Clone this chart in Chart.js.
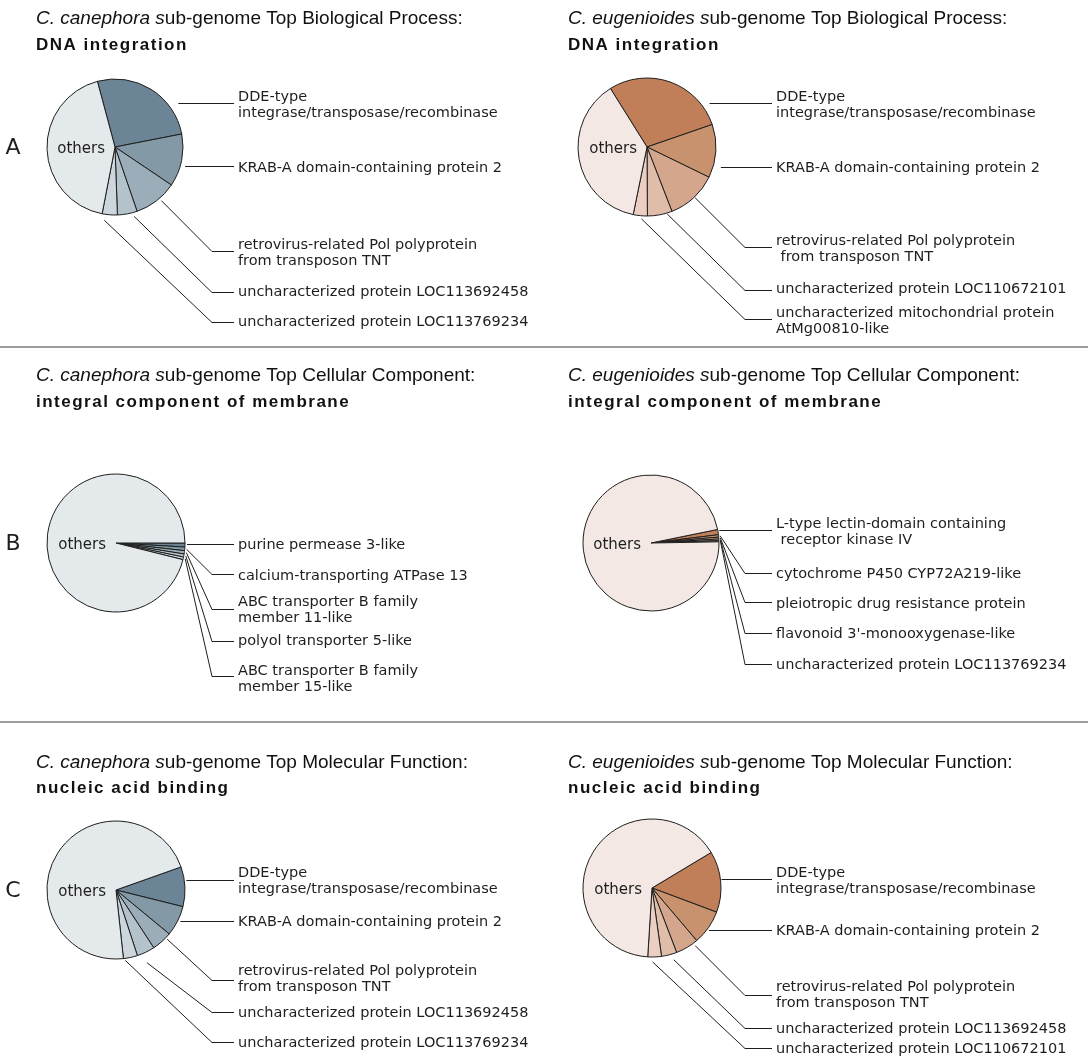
<!DOCTYPE html>
<html>
<head>
<meta charset="utf-8">
<script src="https://cdn.jsdelivr.net/npm/chart.js@4.4.1/dist/chart.umd.min.js"></script>
<style>
  html, body { margin: 0; padding: 0; background: #fff; }
  #page { position: relative; width: 1092px; height: 1062px; overflow: hidden; background: #fff; }
  #page canvas { position: absolute; }
  .rule { position: absolute; left: 0; width: 1088px; height: 2px; background: #9c9c9c; z-index: 2; }
</style>
</head>
<body>
<div id="page">
  <div class="rule" style="top:346px"></div>
  <div class="rule" style="top:721px"></div>
</div>
<script>
// ---- GO terms ----
const bpTerm = 'DNA integration';
const ccTerm = 'integral component of membrane';
const mfTerm = 'nucleic acid binding';

// ---- Biological Process: DNA integration (share of genes, %) ----
const bpCanephoraLabels = [
  'DDE-type\nintegrase/transposase/recombinase',
  'KRAB-A domain-containing protein 2',
  'retrovirus-related Pol polyprotein\nfrom transposon TNT',
  'uncharacterized protein LOC113692458',
  'uncharacterized protein LOC113769234',
  'others'
];
const bpCanephoraShares = [26.1, 12.5, 10.3, 4.7, 3.6, 42.8];

const bpEugenioidesLabels = [
  'DDE-type\nintegrase/transposase/recombinase',
  'KRAB-A domain-containing protein 2',
  'retrovirus-related Pol polyprotein\n from transposon TNT',
  'uncharacterized protein LOC110672101',
  'uncharacterized mitochondrial protein\nAtMg00810-like',
  'others'
];
const bpEugenioidesShares = [28.6, 12.5, 11.9, 5.8, 3.3, 37.9];

// ---- Cellular Component: integral component of membrane ----
const ccCanephoraLabels = [
  'purine permease 3-like',
  'calcium-transporting ATPase 13',
  'ABC transporter B family\nmember 11-like',
  'polyol transporter 5-like',
  'ABC transporter B family\nmember 15-like',
  'others'
];
const ccCanephoraShares = [0.94, 0.83, 0.78, 0.72, 0.61, 96.12];

const ccEugenioidesLabels = [
  'L-type lectin-domain containing\n receptor kinase IV',
  'cytochrome P450 CYP72A219-like',
  'pleiotropic drug resistance protein',
  "flavonoid 3'-monooxygenase-like",
  'uncharacterized protein LOC113769234',
  'others'
];
const ccEugenioidesShares = [1.25, 0.56, 0.44, 0.39, 0.28, 97.08];

// ---- Molecular Function: nucleic acid binding ----
const mfCanephoraLabels = [
  'DDE-type\nintegrase/transposase/recombinase',
  'KRAB-A domain-containing protein 2',
  'retrovirus-related Pol polyprotein\nfrom transposon TNT',
  'uncharacterized protein LOC113692458',
  'uncharacterized protein LOC113769234',
  'others'
];
const mfCanephoraShares = [9.3, 7.1, 4.8, 4.2, 3.3, 71.3];

const mfEugenioidesLabels = [
  'DDE-type\nintegrase/transposase/recombinase',
  'KRAB-A domain-containing protein 2',
  'retrovirus-related Pol polyprotein\nfrom transposon TNT',
  'uncharacterized protein LOC113692458',
  'uncharacterized protein LOC110672101',
  'others'
];
const mfEugenioidesShares = [14.3, 8.1, 5.4, 3.6, 3.2, 65.4];

// ---- palettes ----
const canephoraColors   = ['#6b8596', '#8399a5', '#9aadb9', '#b3c2cb', '#ccd6dc', '#e4e9ec'];
const eugenioidesColors = ['#c07f58', '#c9926f', '#d4a68b', '#dfbda8', '#eacfc2', '#f3e8e3'];

// ---- panel layout (page coordinates) ----
const LEFT = { textX: 238, kneeX: 212, titleX: 36 };
const RIGHT = { textX: 776, kneeX: 745, titleX: 568 };

const panels = [
  { letter: 'A', species: 'C. canephora s', rest: 'ub-genome Top Biological Process:', term: bpTerm,
    labels: bpCanephoraLabels, values: bpCanephoraShares, colors: canephoraColors,
    box: [0, 0, 546, 346], pie: [115, 147, 68], rotation: -15, titleY: [24, 50], col: LEFT,
    leaders: [
      { type: 'h', y: 103, gap: 11, textY: 101 },
      { type: 'h', y: 166, gap: 5, textY: 172 },
      { type: 'ray', frac: 0.41, gap: 3, y: 251, textY: 249 },
      { type: 'ray', frac: 0.21, gap: 4, y: 292, textY: 296 },
      { type: 'ray', frac: 0.80, gap: 6, y: 322, textY: 326 }
    ] },
  { species: 'C. eugenioides s', rest: 'ub-genome Top Biological Process:', term: bpTerm,
    labels: bpEugenioidesLabels, values: bpEugenioidesShares, colors: eugenioidesColors,
    box: [546, 0, 546, 346], pie: [647, 147, 69], rotation: -32, titleY: [24, 50], col: RIGHT,
    leaders: [
      { type: 'h', y: 103, gap: 9, textY: 101 },
      { type: 'h', y: 167, gap: 8, textY: 172 },
      { type: 'ray', frac: 0.48, gap: 1, y: 247, textY: 245 },
      { type: 'ray', frac: 0.21, gap: 1, y: 290, textY: 293 },
      { type: 'ray', frac: 0.40, gap: 3, y: 319, textY: 317 }
    ] },
  { letter: 'B', species: 'C. canephora s', rest: 'ub-genome Top Cellular Component:', term: ccTerm,
    labels: ccCanephoraLabels, values: ccCanephoraShares, colors: canephoraColors,
    box: [0, 346, 546, 376], pie: [116, 543, 69], rotation: 90, titleY: [381, 407], col: LEFT,
    leaders: [
      { type: 'h', y: 544, gap: 2, textY: 549 },
      { type: 'ray', frac: 0.6, gap: 2, y: 574, textY: 580 },
      { type: 'ray', frac: 0.5, gap: 2, y: 609, textY: 606 },
      { type: 'ray', frac: 0.5, gap: 2, y: 641, textY: 645 },
      { type: 'ray', frac: 0.5, gap: 2, y: 676, textY: 675 }
    ] },
  { species: 'C. eugenioides s', rest: 'ub-genome Top Cellular Component:', term: ccTerm,
    labels: ccEugenioidesLabels, values: ccEugenioidesShares, colors: eugenioidesColors,
    box: [546, 346, 546, 376], pie: [651, 543, 68], rotation: 78.5, titleY: [381, 407], col: RIGHT,
    leaders: [
      { type: 'h', y: 530, gap: 1.5, textY: 528 },
      { type: 'ray', frac: 0.5, gap: 1.5, y: 573, textY: 578 },
      { type: 'ray', frac: 0.5, gap: 1.5, y: 602, textY: 608 },
      { type: 'ray', frac: 0.5, gap: 1.5, y: 633, textY: 638 },
      { type: 'ray', frac: 0.5, gap: 1.5, y: 664, textY: 669 }
    ] },
  { letter: 'C', species: 'C. canephora s', rest: 'ub-genome Top Molecular Function:', term: mfTerm,
    labels: mfCanephoraLabels, values: mfCanephoraShares, colors: canephoraColors,
    box: [0, 722, 546, 340], pie: [116, 890, 69], rotation: 70.5, titleY: [768, 793], col: LEFT,
    leaders: [
      { type: 'h', y: 880, gap: 2, textY: 877 },
      { type: 'h', y: 921, gap: 3, textY: 926 },
      { type: 'ray', frac: 0.25, gap: 2, y: 980, textY: 975 },
      { type: 'ray', frac: 0.67, gap: 10, y: 1012, textY: 1017 },
      { type: 'ray', frac: 0.89, gap: 2, y: 1042, textY: 1047 }
    ] },
  { species: 'C. eugenioides s', rest: 'ub-genome Top Molecular Function:', term: mfTerm,
    labels: mfEugenioidesLabels, values: mfEugenioidesShares, colors: eugenioidesColors,
    box: [546, 722, 546, 340], pie: [652, 888, 69], rotation: 59, titleY: [768, 793], col: RIGHT,
    leaders: [
      { type: 'h', y: 879, gap: 1, textY: 877 },
      { type: 'h', y: 930, gap: 2.5, textY: 935 },
      { type: 'ray', frac: 0.18, gap: 3, y: 995, textY: 991 },
      { type: 'ray', frac: 0.31, gap: 6, y: 1028, textY: 1033 },
      { type: 'ray', frac: 0.65, gap: 5, y: 1048, textY: 1053 }
    ] }
];

const INK = '#1e1e1e';
const LABEL_FONT = '14.5px "DejaVu Sans", Verdana, sans-serif';
const LINE_H = 15.5;

// Titles, leader lines, slice labels and the panel letter
function makeAnnotator(p) {
  return {
    id: 'annotator',
    afterDatasetsDraw(chart) {
      const ctx = chart.ctx;
      const [ox, oy] = p.box;
      const tX = p.col.titleX - ox;
      ctx.save();
      ctx.fillStyle = '#111';
      ctx.textBaseline = 'alphabetic';
      ctx.textAlign = 'left';

      // title line 1: italic species name + plain remainder
      ctx.font = 'italic 19px "Liberation Sans", Arial, sans-serif';
      ctx.fillText(p.species, tX, p.titleY[0] - oy);
      const w = ctx.measureText(p.species).width;
      ctx.font = '19px "Liberation Sans", Arial, sans-serif';
      ctx.fillText(p.rest, tX + w, p.titleY[0] - oy);

      // title line 2: GO term
      ctx.font = 'bold 17px "Liberation Sans", Arial, sans-serif';
      ctx.letterSpacing = '1.5px';
      ctx.fillText(p.term, tX, p.titleY[1] - oy);
      ctx.letterSpacing = '0px';

      const meta = chart.getDatasetMeta(0);
      const kx = p.col.kneeX - ox;
      const tx = p.col.textX - ox;

      // panel letter beside the pie
      if (p.letter && meta.data.length) {
        ctx.font = '22px "DejaVu Sans", Verdana, sans-serif';
        ctx.textAlign = 'center';
        ctx.textBaseline = 'middle';
        ctx.fillStyle = INK;
        ctx.fillText(p.letter, 13 - ox, meta.data[0].y + 1);
      }

      ctx.strokeStyle = INK;
      ctx.lineWidth = 1;
      meta.data.forEach((arc, i) => {
        const a = arc.getProps(['x', 'y', 'outerRadius', 'startAngle', 'endAngle'], true);
        const L = p.leaders[i];
        ctx.fillStyle = INK;
        if (!L) {
          ctx.font = '15px "DejaVu Sans", Verdana, sans-serif';
          ctx.textAlign = 'right';
          ctx.textBaseline = 'middle';
          ctx.fillText(p.labels[i], a.x - 10, a.y + 2);
          return;
        }
        const ly = Math.round(L.y - oy) + 0.5;
        let sx, sy;
        if (L.type === 'h') {
          const dy = ly - a.y;
          sx = a.x + Math.sqrt(Math.max(0, a.outerRadius * a.outerRadius - dy * dy)) + L.gap;
          sy = ly;
        } else {
          const ang = a.startAngle + L.frac * (a.endAngle - a.startAngle);
          sx = a.x + (a.outerRadius + L.gap) * Math.cos(ang);
          sy = a.y + (a.outerRadius + L.gap) * Math.sin(ang);
        }
        ctx.beginPath();
        ctx.moveTo(sx, sy);
        if (L.type !== 'h') ctx.lineTo(kx, ly);
        ctx.lineTo(tx - 4, ly);
        ctx.stroke();

        ctx.font = LABEL_FONT;
        ctx.textAlign = 'left';
        ctx.textBaseline = 'alphabetic';
        p.labels[i].split('\n').forEach((s, k) => {
          ctx.fillText(s, tx, L.textY - oy + k * LINE_H);
        });
      });
      ctx.restore();
    }
  };
}

const page = document.getElementById('page');
panels.forEach(p => {
  const [ox, oy, W, H] = p.box;
  const [cx, cy, r] = p.pie;
  const cv = document.createElement('canvas');
  cv.width = W; cv.height = H;
  cv.style.left = ox + 'px';
  cv.style.top = oy + 'px';
  page.appendChild(cv);
  const rr = r + 0.5;
  new Chart(cv, {
    type: 'pie',
    data: {
      labels: p.labels,
      datasets: [{
        data: p.values,
        backgroundColor: p.colors,
        borderColor: INK,
        borderWidth: 1
      }]
    },
    options: {
      responsive: false,
      animation: false,
      events: [],
      rotation: p.rotation,
      layout: {
        padding: {
          left: cx - rr - ox,
          top: cy - rr - oy,
          right: W - (cx + rr - ox),
          bottom: H - (cy + rr - oy)
        }
      },
      plugins: { legend: { display: false }, tooltip: { enabled: false }, title: { display: false } }
    },
    plugins: [makeAnnotator(p)]
  });
});
</script>
</body>
</html>
